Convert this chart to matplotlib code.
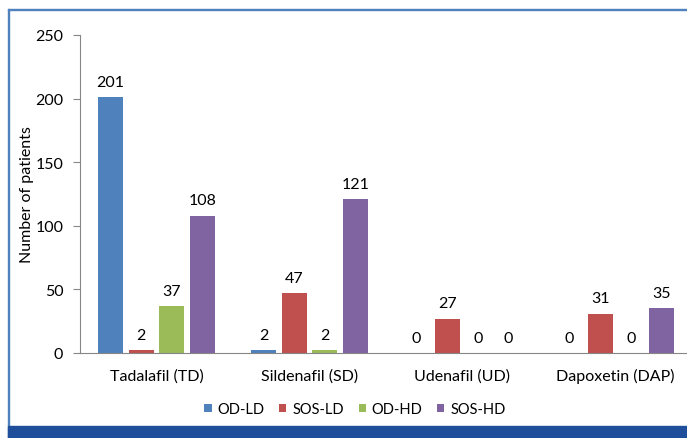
import matplotlib
matplotlib.use("Agg")
import matplotlib.pyplot as plt
from matplotlib.patches import Rectangle
import numpy as np

categories = ["Tadalafil (TD)", "Sildenafil (SD)", "Udenafil (UD)", "Dapoxetin (DAP)"]
series_names = ["OD-LD", "SOS-LD", "OD-HD", "SOS-HD"]
od_ld = [201, 2, 0, 0]
sos_ld = [2, 47, 27, 31]
od_hd = [37, 2, 0, 0]
sos_hd = [108, 121, 0, 35]
colors = ["#4F81BD", "#C0504D", "#9BBB59", "#8064A2"]

plt.rcParams['font.family'] = ['Lato', 'DejaVu Sans']
FS = 11.5

fig = plt.figure(figsize=(6.87, 4.39), dpi=100)
ax = fig.add_axes([80/687, 1-354/439, 612/687, (354-36)/439])

x = np.arange(len(categories))
width = 0.163
step = 0.2
all_series = [od_ld, sos_ld, od_hd, sos_hd]
for i, (vals, name, c) in enumerate(zip(all_series, series_names, colors)):
    pos = x + (i - 1.5) * step
    ax.bar(pos, vals, width, color=c, label=name)
    for p, v in zip(pos, vals):
        ax.annotate(str(v), (p, v), xytext=(0, 6), textcoords="offset points",
                    ha="center", va="bottom", fontsize=FS, color="#000000")

ax.set_xlim(-0.5, 3.5)
ax.set_ylim(0, 250)
ax.set_yticks(range(0, 251, 50))
ax.set_xticks(x)
ax.set_xticklabels(categories, fontsize=FS)
ax.tick_params(axis='x', length=0, pad=11)
ax.tick_params(axis='y', direction='out', length=5, color="#868686", labelsize=FS, pad=7)
for s in ["top", "right"]:
    ax.spines[s].set_visible(False)
for s in ["left", "bottom"]:
    ax.spines[s].set_color("#868686")
ax.set_ylabel("Number of patients", fontsize=FS)
ax.yaxis.set_label_coords(-46/612, 0.5)

fig.legend(loc="center", bbox_to_anchor=(355/687, 1-410/439), ncol=4, frameon=False,
           fontsize=10.5, handlelength=0.5, handleheight=0.5, handletextpad=0.4,
           columnspacing=1.0, borderpad=0.2)

# frame
fig.patches.append(Rectangle((7.5/687, 0), 1.5/687, 1-10/439, transform=fig.transFigure,
                             color="#4F81BD", zorder=0))
fig.patches.append(Rectangle((7.5/687, 1-11/439), 1 - 7.5/687, 1.5/439, transform=fig.transFigure,
                             color="#4F81BD", zorder=0))
fig.patches.append(Rectangle((7.5/687, 0), 1 - 7.5/687, 12/439, transform=fig.transFigure,
                             color="#1F4E9A", zorder=0))

fig.savefig("out.png", dpi=100)
